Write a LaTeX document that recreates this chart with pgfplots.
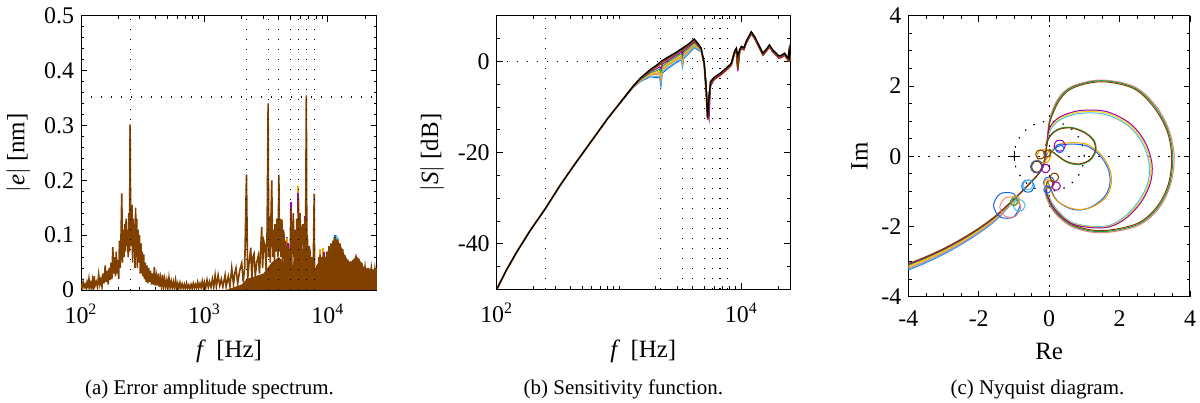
\documentclass[border=0pt]{standalone}
\usepackage{fontspec}
\setmainfont{Liberation Serif}
\usepackage{pgfplots}
\pgfplotsset{compat=1.18}
\definecolor{cBlue}{RGB}{20,100,235}
\definecolor{cLBlue}{RGB}{70,190,240}
\definecolor{cOrange}{RGB}{240,160,0}
\definecolor{cYellow}{RGB}{240,220,0}
\definecolor{cGreen}{RGB}{30,160,70}
\definecolor{cPurple}{RGB}{160,0,170}
\definecolor{cPink}{RGB}{240,130,130}
\definecolor{cBrown}{RGB}{128,64,0}
\pgfplotsset{
  myaxis/.style={scale only axis, tick pos=both, tick align=inside,
    major tick length=3bp, minor tick length=1.6bp,
    every tick/.style={black, line width=0.4bp},
    axis line style={line width=0.5bp},
    ticklabel style={font=\fontsize{12}{14}\selectfont},
    xticklabel style={yshift=-3.5bp},
    label style={font=\fontsize{12.5}{15}\selectfont},
    xlabel style={yshift=-1.5bp},
    /pgf/number format/assume math mode=true, clip=true},
  refl/.style={black, line width=0.6bp, dash pattern=on 0.7bp off 4.3bp, forget plot},
  sc/.style={line width=0.5bp, smooth, tension=0.55, forget plot},
  pk/.style={line width=0.9bp, unbounded coords=jump, forget plot},
}
\begin{document}
\begin{tikzpicture}
\useasboundingbox (0,0) rectangle (600bp,201.5bp);
% ---------------- (a) ----------------
\begin{axis}[myaxis, at={(40.5bp,56.5bp)}, anchor=south west, width=148bp, height=137.15bp,
  xmode=log, xmin=100, xmax=25000, ymin=0, ymax=0.5,
  xtick={100,1000,10000}, xticklabels={10\textsuperscript{2},10\textsuperscript{3},10\textsuperscript{4}},
  minor xtick={200,300,400,500,600,700,800,900,2000,3000,4000,5000,6000,7000,8000,9000,20000},
  ytick={0,0.1,0.2,0.3,0.4,0.5}, yticklabels={0,0.1,0.2,0.3,0.4,0.5},
  minor ytick={0.02,0.04,0.06,0.08,0.12,0.14,0.16,0.18,0.22,0.24,0.26,0.28,0.32,0.34,0.36,0.38,0.42,0.44,0.46,0.48},
  xlabel={\textit{f}\,\ [Hz]}, ylabel={$|$\textit{e}$|$\ [nm]}]
\addplot[pk, cPink] coordinates {(250,0.25)(250,0.303)(nan,nan)(2190,0.17)(2190,0.212)(nan,nan)(12000,0.07)(12000,0.094)(nan,nan)(16910,0.05)(16910,0.066)};
\addplot[pk, cLBlue] coordinates {(11200,0.07)(11200,0.097)(nan,nan)(11600,0.07)(11600,0.1)(nan,nan)(11900,0.07)(11900,0.096)};
\addplot[pk, cBlue] coordinates {(4700,0.06)(4700,0.096)(nan,nan)(5010,0.12)(5010,0.155)(nan,nan)(5770,0.15)(5770,0.183)(nan,nan)(11430,0.07)(11430,0.1)};
\addplot[pk, cOrange] coordinates {(4240,0.1)(4240,0.13)(nan,nan)(4700,0.06)(4700,0.095)(nan,nan)(5770,0.15)(5770,0.19)(nan,nan)(8650,0.05)(8650,0.075)(nan,nan)(9195,0.05)(9195,0.076)};
\addplot[pk, cPurple] coordinates {(4720,0.04)(4720,0.085)(nan,nan)(5010,0.1)(5010,0.16)(nan,nan)(5770,0.14)(5770,0.176)(nan,nan)(6500,0.1)(6500,0.135)(nan,nan)(9300,0.04)(9300,0.07)};
\addplot[draw=none, fill=cBrown, forget plot] coordinates {(1500,0)(2000,0.01)(2200,0.02)(3000,0.03)(3500,0.05)(4000,0.06)(4500,0.05)(5000,0.04)(5500,0.06)(6000,0.07)(6500,0.08)(7000,0.05)(7600,0.03)(8000,0.04)(8500,0.055)(9000,0.06)(9500,0.058)(10000,0.07)(10600,0.082)(11000,0.088)(11430,0.095)(12000,0.09)(12560,0.083)(13200,0.072)(13800,0.062)(14500,0.055)(15100,0.05)(15900,0.054)(16900,0.062)(17800,0.057)(18800,0.049)(19500,0.042)(20000,0.04)(22000,0.039)(24000,0.037)(25000,0.038)} \closedcycle;
\addplot[cBrown, line width=0.8bp] coordinates {
(100,0.012)(102,0.004)(104,0.015)(106,0.005)(108,0.01)(110,0.003)(112,0.014)(114,0.006)(116,0.02)(118,0.005)(120,0.012)(122,0.004)(124,0.018)(126,0.006)(128,0.025)(130,0.008)(133,0.015)(136,0.005)(139,0.028)(142,0.01)(145,0.02)(148,0.006)(151,0.03)(154,0.012)(157,0.045)(160,0.015)(163,0.035)(166,0.01)(169,0.04)(172,0.018)(175,0.05)(178,0.02)(181,0.078)(184,0.03)(187,0.06)(190,0.025)(193,0.07)(196,0.03)(199,0.055)(202,0.02)(205,0.09)(208,0.04)(211,0.1)(214,0.176)(217,0.05)(220,0.11)(223,0.06)(226,0.12)(229,0.07)(232,0.13)(235,0.08)(238,0.11)(241,0.06)(244,0.14)(247,0.07)(250,0.30)(253,0.08)(256,0.12)(259,0.155)(262,0.05)(265,0.13)(268,0.07)(271,0.12)(274,0.04)(277,0.15)(280,0.06)(283,0.13)(286,0.04)(290,0.11)(294,0.05)(298,0.1)(302,0.03)(306,0.085)(310,0.03)(314,0.07)(318,0.025)(322,0.065)(327,0.02)(332,0.05)(337,0.015)(342,0.045)(348,0.012)(354,0.04)(360,0.015)(366,0.035)(372,0.01)(379,0.03)(386,0.01)(393,0.042)(400,0.008)(408,0.025)(416,0.008)(424,0.03)(432,0.006)(440,0.022)(449,0.006)(458,0.028)(467,0.005)(476,0.02)(486,0.005)(496,0.018)(506,0.004)(516,0.022)(527,0.004)(538,0.016)(549,0.004)(560,0.015)(572,0.003)(584,0.018)(596,0.003)(608,0.012)(620,0.003)(633,0.013)(646,0.003)(660,0.011)(674,0.003)(688,0.01)(702,0.002)(717,0.012)(732,0.003)(747,0.009)(763,0.002)(779,0.01)(795,0.003)(812,0.012)(829,0.003)(846,0.01)(864,0.003)(882,0.014)(900,0.004)(920,0.012)(940,0.004)(960,0.016)(980,0.004)(1000,0.014)(1025,0.004)(1050,0.018)(1075,0.005)(1100,0.015)(1130,0.005)(1160,0.02)(1190,0.005)(1220,0.027)(1250,0.006)(1290,0.027)(1330,0.008)(1370,0.02)(1410,0.006)(1470,0.027)(1500,0.006)
(1560,0.025)(1610,0.006)(1664,0.04)(1720,0.01)(1760,0.03)(1803,0.04)(1860,0.012)(1930,0.035)(2006,0.049)(2060,0.015)(2120,0.04)(2190,0.21)(2240,0.02)(2300,0.05)(2373,0.077)(2420,0.02)(2470,0.06)(2523,0.066)(2580,0.025)(2650,0.05)(2735,0.063)(2790,0.03)(2850,0.07)(2912,0.115)(2960,0.04)(3020,0.09)(3097,0.08)(3160,0.035)(3220,0.11)(3280,0.34)(3320,0.06)(3360,0.134)(3410,0.05)(3450,0.12)(3510,0.2)(3570,0.06)(3640,0.11)(3690,0.05)(3733,0.12)(3800,0.07)(3870,0.13)(3940,0.06)(4010,0.21)(4050,0.07)(4100,0.13)(4170,0.06)(4240,0.128)(4300,0.05)(4360,0.11)(4417,0.1)(4480,0.04)(4560,0.09)(4620,0.03)(4700,0.08)(4780,0.03)(4850,0.075)(4930,0.04)(5010,0.15)(5070,0.03)(5150,0.09)(5253,0.14)(5330,0.05)(5420,0.11)(5500,0.05)(5600,0.13)(5680,0.06)(5770,0.17)(5850,0.06)(5953,0.14)(6050,0.06)(6150,0.11)(6260,0.12)(6380,0.05)(6500,0.13)(6590,0.06)(6690,0.355)(6760,0.06)(6820,0.1)(6950,0.03)(7050,0.08)(7173,0.07)(7300,0.02)(7450,0.06)(7600,0.03)(7750,0.175)(7810,0.02)(7870,0.04)(8000,0.01)(8150,0.045)(8300,0.015)(8450,0.06)(8550,0.015)(8650,0.065)(8800,0.02)(8950,0.06)(9050,0.02)(9195,0.065)(9350,0.02)(9500,0.06)(9650,0.02)(9800,0.07)(10000,0.02)(10200,0.08)(10420,0.02)(10600,0.085)(10800,0.02)(11000,0.09)(11200,0.02)(11430,0.097)(11700,0.02)(12000,0.092)(12300,0.02)(12560,0.085)(12900,0.015)(13200,0.075)(13500,0.015)(13770,0.063)(14100,0.015)(14500,0.055)(14800,0.015)(15130,0.052)(15500,0.015)(15900,0.055)(16300,0.015)(16910,0.062)(17300,0.015)(17800,0.057)(18300,0.015)(18820,0.05)(19300,0.012)(20000,0.042)(20600,0.012)(21200,0.04)(21800,0.012)(22500,0.04)(23200,0.01)(24000,0.038)(24600,0.01)(25000,0.04)};
\addplot[refl] coordinates {(100,0.352)(25000,0.352)};
\addplot[refl] coordinates {(250,0)(250,0.5)};
\addplot[refl] coordinates {(2190,0)(2190,0.5)};
\addplot[refl] coordinates {(3280,0)(3280,0.5)};
\addplot[refl] coordinates {(4010,0)(4010,0.5)};
\addplot[refl] coordinates {(5010,0)(5010,0.5)};
\addplot[refl] coordinates {(5770,0)(5770,0.5)};
\addplot[refl] coordinates {(6690,0)(6690,0.5)};
\addplot[refl] coordinates {(7750,0)(7750,0.5)};
\end{axis}
% ---------------- (b) ----------------
\begin{axis}[myaxis, at={(248.35bp,56.85bp)}, anchor=south west, width=146.65bp, height=136.8bp,
  xmode=log, xmin=100, xmax=25000, ymin=-50, ymax=10,
  xtick={100,10000}, xticklabels={10\textsuperscript{2},10\textsuperscript{4}},
  minor xtick={200,300,400,500,600,700,800,900,1000,2000,3000,4000,5000,6000,7000,8000,9000,20000},
  ytick={-40,-20,0}, yticklabels={-40,-20,0},
  minor ytick={-50,-45,-35,-30,-25,-15,-10,-5,5,10},
  xlabel={\textit{f}\,\ [Hz]}, ylabel={$|$\textit{S}$|$\ [dB]}]
\addplot[refl] coordinates {(100,0)(25000,0)};
\addplot[refl] coordinates {(250,-50)(250,10)};
\addplot[refl] coordinates {(2190,-50)(2190,10)};
\addplot[refl] coordinates {(3280,-50)(3280,10)};
\addplot[refl] coordinates {(4010,-50)(4010,10)};
\addplot[refl] coordinates {(5010,-50)(5010,10)};
\addplot[refl] coordinates {(5770,-50)(5770,10)};
\addplot[refl] coordinates {(6690,-50)(6690,10)};
\addplot[refl] coordinates {(7750,-50)(7750,10)};
% blue
\addplot[cBlue, line width=0.5bp] coordinates {(1000,-9.4)(1300,-5.8)(1504,-4.4)(1800,-3.4)(2060,-3.6)(2150,-3.5)(2200,-5.5)(2260,-2.6)(2500,-1.6)(2900,-0.4)(3250,0.4)(3300,-1.6)(3360,0.5)(3700,1.6)(4120,3.0)(4400,2.5)(4690,2.1)(4970,-0.7)(5150,-4.8)(5300,-10.2)(5450,-7.0)(5600,-4.2)(6000,-3.6)(6800,-2.6)(7500,-1.6)(8290,-0.5)(8800,2.1)(9100,2.8)(9350,-1.5)(9700,2.5)(10000,3.2)(10500,2.9)(11000,4.4)(12060,6.4)(12800,5.4)(13650,3.9)(15000,1.7)(15700,2.3)(16980,3.5)(18100,2.4)(19300,1.7)(20200,1.1)(21100,1.2)(22600,1.7)(24100,0.6)(24600,2.3)(25000,0.2)};
% light blue
\addplot[cLBlue, line width=0.5bp] coordinates {(1000,-9.4)(1300,-5.77)(1504,-4.32)(1800,-3.24)(2060,-3.31)(2150,-3.17)(2200,-4.95)(2260,-2.32)(2500,-1.35)(2900,-0.17)(3250,0.64)(3300,-1.15)(3360,0.75)(3700,1.82)(4120,3.19)(4400,2.65)(4690,2.18)(4970,-0.67)(5150,-4.8)(5300,-10.5)(5450,-7.2)(5600,-4.2)(6000,-3.65)(6800,-2.65)(7500,-1.65)(8290,-0.55)(8800,2.05)(9100,2.75)(9350,-1.6)(9700,2.45)(10000,3.15)(10500,2.85)(11000,4.35)(12060,6.35)(12800,5.35)(13650,3.85)(15000,1.65)(15700,2.25)(16980,3.45)(18100,2.35)(19300,1.65)(20200,1.05)(21100,1.15)(22600,1.65)(24100,0.55)(24600,2.25)(25000,0.15)};
% orange
\addplot[cOrange, line width=0.5bp] coordinates {(1000,-9.4)(1300,-5.73)(1504,-4.2)(1800,-3.0)(2060,-2.88)(2150,-2.68)(2200,-4.13)(2260,-1.9)(2500,-0.98)(2900,0.18)(3250,1.0)(3300,-0.48)(3360,1.13)(3700,2.15)(4120,3.48)(4400,2.88)(4690,2.3)(4970,-0.63)(5150,-6.0)(5300,-12.5)(5450,-8.2)(5600,-4.7)(6000,-4.1)(6800,-3.1)(7500,-2.1)(8290,-1.0)(8800,1.6)(9100,2.3)(9350,-1.9)(9700,2.0)(10000,2.7)(10500,2.4)(11000,3.9)(12060,5.9)(12800,4.9)(13650,3.4)(15000,1.2)(15700,1.8)(16980,3.0)(18100,1.9)(19300,1.2)(20200,0.6)(21100,0.7)(22600,1.2)(24100,0.1)(24600,1.8)(25000,-0.3)};
% pink
\addplot[cPink, line width=0.5bp] coordinates {(1000,-9.4)(1300,-5.7)(1504,-4.12)(1800,-2.84)(2060,-2.59)(2150,-2.35)(2200,-3.58)(2260,-1.62)(2500,-0.73)(2900,0.41)(3250,1.24)(3300,-0.03)(3360,1.38)(3700,2.37)(4120,3.67)(4400,3.03)(4690,2.38)(4970,-0.6)(5150,-5.5)(5300,-11.5)(5450,-8.0)(5600,-4.6)(6000,-3.8)(6800,-2.8)(7500,-1.8)(8290,-0.7)(8800,1.9)(9100,2.6)(9350,-1.8)(9700,2.3)(10000,3.0)(10500,2.7)(11000,4.2)(12060,6.2)(12800,5.2)(13650,3.7)(15000,1.5)(15700,2.1)(16980,3.3)(18100,2.2)(19300,1.5)(20200,0.9)(21100,1.0)(22600,1.5)(24100,0.4)(24600,2.1)(25000,0.0)};
% yellow
\addplot[cYellow, line width=0.5bp] coordinates {(1000,-9.4)(1300,-5.67)(1504,-4.04)(1800,-2.68)(2060,-2.3)(2150,-2.02)(2200,-3.03)(2260,-1.34)(2500,-0.48)(2900,0.64)(3250,1.48)(3300,0.43)(3360,1.63)(3700,2.59)(4120,3.86)(4400,3.18)(4690,2.46)(4970,-0.57)(5150,-5.0)(5300,-11.2)(5450,-7.6)(5600,-4.3)(6000,-3.9)(6800,-2.9)(7500,-1.9)(8290,-0.8)(8800,1.8)(9100,2.5)(9350,-1.8)(9700,2.2)(10000,2.9)(10500,2.6)(11000,4.1)(12060,6.1)(12800,5.1)(13650,3.6)(15000,1.4)(15700,2.0)(16980,3.2)(18100,2.1)(19300,1.4)(20200,0.8)(21100,0.9)(22600,1.4)(24100,0.3)(24600,2.0)(25000,-0.1)};
% green
\addplot[cGreen, line width=0.5bp] coordinates {(1000,-9.4)(1300,-5.64)(1504,-3.96)(1800,-2.52)(2060,-2.0)(2150,-1.69)(2200,-2.48)(2260,-1.06)(2500,-0.23)(2900,0.87)(3250,1.72)(3300,0.88)(3360,1.88)(3700,2.81)(4120,4.05)(4400,3.33)(4690,2.54)(4970,-0.54)(5150,-5.2)(5300,-11.0)(5450,-7.8)(5600,-4.4)(6000,-3.75)(6800,-2.75)(7500,-1.75)(8290,-0.65)(8800,1.95)(9100,2.65)(9350,-1.7)(9700,2.35)(10000,3.05)(10500,2.75)(11000,4.25)(12060,6.25)(12800,5.25)(13650,3.75)(15000,1.55)(15700,2.15)(16980,3.35)(18100,2.25)(19300,1.55)(20200,0.95)(21100,1.05)(22600,1.55)(24100,0.45)(24600,2.15)(25000,0.05)};
% purple
\addplot[cPurple, line width=0.5bp] coordinates {(1000,-9.4)(1300,-5.59)(1504,-3.84)(1800,-2.28)(2060,-1.57)(2150,-1.19)(2200,-1.65)(2260,-0.64)(2500,0.15)(2900,1.21)(3250,2.08)(3300,1.55)(3360,2.25)(3700,3.14)(4120,4.33)(4400,3.55)(4690,2.66)(4970,-0.49)(5150,-5.0)(5300,-11.0)(5450,-12.8)(5600,-5.5)(6000,-4.0)(6800,-3.0)(7500,-2.0)(8290,-0.9)(8800,1.7)(9100,2.4)(9350,-2.2)(9700,2.1)(10000,2.8)(10500,2.5)(11000,4.0)(12060,6.0)(12800,5.0)(13650,3.5)(15000,1.3)(15700,1.9)(16980,3.1)(18100,2.0)(19300,1.3)(20200,0.7)(21100,0.8)(22600,1.3)(24100,0.2)(24600,1.9)(25000,-0.2)};
% brown
\addplot[cBrown, line width=0.9bp] coordinates {(100,-50)(120,-45.8)(146,-41.8)(188,-37.1)(250,-32.3)(330,-27.2)(426,-22.9)(584,-17.8)(800,-12.7)(1000,-9.4)(1300,-5.54)(1504,-3.7)(1800,-1.99)(2060,-1.05)(2150,-0.6)(2200,-0.66)(2260,-0.14)(2500,0.6)(2900,1.62)(3250,2.51)(3300,2.36)(3360,2.7)(3700,3.54)(4120,4.67)(4400,3.82)(4690,2.8)(4970,-0.44)(5150,-6.5)(5300,-12.8)(5450,-8.5)(5600,-5.0)(6000,-3.7)(6800,-2.7)(7500,-1.7)(8290,-0.6)(8800,2.0)(9100,2.7)(9350,-1.6)(9700,2.4)(10000,3.1)(10500,2.8)(11000,4.3)(12060,6.3)(12800,5.3)(13650,3.8)(15000,1.6)(15700,2.2)(16980,3.4)(18100,2.3)(19300,1.6)(20200,1.0)(21100,1.1)(22600,1.6)(24100,0.5)(24600,2.2)(25000,0.1)};
% black
\addplot[black, line width=0.6bp] coordinates {(100,-50)(120,-45.8)(146,-41.8)(188,-37.1)(250,-32.3)(330,-27.2)(426,-22.9)(584,-17.8)(800,-12.7)(1000,-9.4)(1300,-5.5)(1504,-3.6)(1800,-1.8)(2060,-0.7)(2200,0)(2500,0.9)(2900,1.9)(3300,2.9)(3700,3.8)(4120,4.9)(4400,4.0)(4690,2.9)(4970,-0.4)(5150,-5.5)(5300,-12.3)(5450,-7.5)(5600,-4.5)(6000,-3.5)(6800,-2.5)(7500,-1.5)(8290,-0.4)(8800,2.2)(9100,2.9)(9350,1.2)(9700,2.6)(10000,3.3)(10500,3.0)(11000,4.5)(12060,6.5)(12800,5.5)(13650,4.0)(15000,1.8)(15700,2.4)(16980,3.6)(18100,2.5)(19300,1.8)(20200,1.2)(21100,1.3)(22600,1.8)(24100,0.7)(24600,2.4)(25000,0.3)};
\end{axis}
% ---------------- (c) ----------------
\begin{axis}[myaxis, at={(454.15bp,53.15bp)}, anchor=south west, width=140.85bp, height=140.5bp,
  xmin=-4, xmax=4, ymin=-4, ymax=4,
  xtick={-4,-2,0,2,4}, xticklabels={-4,-2,0,2,4},
  ytick={-4,-2,0,2,4}, yticklabels={-4,-2,0,2,4},
  minor tick num=3, xlabel={Re}, ylabel={Im}]
\addplot[refl] coordinates {(-4,0)(4,0)};
\addplot[refl] coordinates {(0,-4)(0,4)};
\addplot[refl, smooth] coordinates {(1,0)(0.924,0.383)(0.707,0.707)(0.383,0.924)(0,1)(-0.383,0.924)(-0.707,0.707)(-0.924,0.383)(-1,0)(-0.924,-0.383)(-0.707,-0.707)(-0.383,-0.924)(0,-1)(0.383,-0.924)(0.707,-0.707)(0.924,-0.383)(1,0)};
\addplot[black, only marks, mark=+, mark size=2.5bp, forget plot] coordinates {(-1,0)};
% tails
\addplot[sc, cBlue] coordinates {(-4,-3.24)(-3.5,-3.031)(-3,-2.792)(-2.5,-2.513)(-2,-2.194)(-1.6,-1.895)(-1.3,-1.608)(-1.0,-1.256)(-0.7,-0.93)(-0.5,-0.72)(-0.3,-0.5)(-0.15,-0.2)(-0.05,0.1)};
\addplot[sc, cLBlue] coordinates {(-4,-3.22)(-3.5,-3.012)(-3,-2.774)(-2.5,-2.496)(-2,-2.178)(-1.6,-1.88)(-1.3,-1.596)(-1.0,-1.252)(-0.7,-0.93)(-0.5,-0.72)(-0.3,-0.5)(-0.15,-0.2)(-0.05,0.5)};
\addplot[sc, cPink] coordinates {(-4,-3.19)(-3.5,-2.984)(-3,-2.747)(-2.5,-2.471)(-2,-2.154)(-1.6,-1.858)(-1.3,-1.578)(-1.0,-1.246)(-0.7,-0.93)(-0.5,-0.72)(-0.3,-0.5)(-0.15,-0.2)(-0.05,0.45)};
\addplot[sc, cOrange] coordinates {(-4,-3.15)(-3.5,-2.946)(-3,-2.711)(-2.5,-2.437)(-2,-2.122)(-1.6,-1.828)(-1.3,-1.554)(-1.0,-1.238)(-0.7,-0.93)(-0.5,-0.72)(-0.3,-0.5)(-0.15,-0.2)(0.05,0.1)};
\addplot[sc, cYellow] coordinates {(-4,-3.13)(-3.5,-2.927)(-3,-2.693)(-2.5,-2.42)(-2,-2.106)(-1.6,-1.813)(-1.3,-1.542)(-1.0,-1.234)(-0.7,-0.93)(-0.5,-0.72)(-0.3,-0.5)(-0.15,-0.2)(-0.05,0.5)};
\addplot[sc, cGreen] coordinates {(-4,-3.10)(-3.5,-2.898)(-3,-2.666)(-2.5,-2.394)(-2,-2.082)(-1.6,-1.79)(-1.3,-1.524)(-1.0,-1.228)(-0.7,-0.93)(-0.5,-0.72)(-0.3,-0.5)(-0.15,-0.2)(-0.05,0.45)};
\addplot[sc, cPurple] coordinates {(-4,-3.08)(-3.5,-2.879)(-3,-2.648)(-2.5,-2.377)(-2,-2.066)(-1.6,-1.775)(-1.3,-1.512)(-1.0,-1.224)(-0.7,-0.93)(-0.5,-0.72)(-0.3,-0.5)(-0.15,-0.2)(-0.05,0.5)};
\addplot[sc, cBrown] coordinates {(-4,-3.06)(-3.5,-2.86)(-3,-2.63)(-2.5,-2.36)(-2,-2.05)(-1.6,-1.76)(-1.3,-1.5)(-1.0,-1.22)(-0.7,-0.93)(-0.5,-0.72)(-0.3,-0.5)(-0.15,-0.2)(-0.05,0.45)};
% tail circles
\addplot[sc, cBlue] coordinates {(-0.82,-1.4)(-1.01,-1.07)(-1.39,-1.07)(-1.58,-1.4)(-1.39,-1.73)(-1.01,-1.73)(-0.82,-1.4)};
\addplot[sc, cPink] coordinates {(-0.8,-1.45)(-0.95,-1.19)(-1.25,-1.19)(-1.4,-1.45)(-1.25,-1.71)(-0.95,-1.71)(-0.8,-1.45)};
\addplot[sc, cLBlue] coordinates {(-0.68,-1.4)(-0.765,-1.253)(-0.935,-1.253)(-1.02,-1.4)(-0.935,-1.547)(-0.765,-1.547)(-0.68,-1.4)};
\addplot[sc, cBlue] coordinates {(-0.42,-0.85)(-0.51,-0.694)(-0.69,-0.694)(-0.78,-0.85)(-0.69,-1.006)(-0.51,-1.006)(-0.42,-0.85)};
\addplot[sc, cLBlue] coordinates {(-0.46,-0.82)(-0.53,-0.7)(-0.67,-0.7)(-0.74,-0.82)(-0.67,-0.94)(-0.53,-0.94)(-0.46,-0.82)};
\addplot[sc, cOrange] coordinates {(-0.83,-1.25)(-0.89,-1.146)(-1.01,-1.146)(-1.07,-1.25)(-1.01,-1.354)(-0.89,-1.354)(-0.83,-1.25)};
\addplot[sc, cGreen] coordinates {(-0.9,-1.3)(-0.95,-1.21)(-1.05,-1.21)(-1.1,-1.3)(-1.05,-1.39)(-0.95,-1.39)(-0.9,-1.3)};
% big loops
\addplot[sc, cPink] coordinates {(-0.05,0.45)(0.01,1.04)(0.26,1.65)(0.67,2.0)(1.49,2.17)(2.42,1.98)(3.02,1.45)(3.40,0.76)(3.55,0.0)(3.45,-0.8)(3.12,-1.48)(2.52,-1.98)(1.49,-2.18)(0.67,-2.02)(0.13,-1.58)(-0.11,-1.08)(-0.05,-0.85)};
\addplot[sc, cGreen] coordinates {(-0.05,0.45)(0.02,1.02)(0.28,1.63)(0.68,1.98)(1.49,2.15)(2.4,1.96)(2.99,1.43)(3.37,0.75)(3.51,0.0)(3.42,-0.79)(3.09,-1.46)(2.5,-1.95)(1.49,-2.15)(0.68,-1.99)(0.15,-1.56)(-0.09,-1.07)(-0.05,-0.85)};
\addplot[sc, cBrown] coordinates {(-0.05,0.45)(0.03,1.0)(0.3,1.6)(0.69,1.95)(1.49,2.12)(2.39,1.93)(2.96,1.41)(3.34,0.74)(3.48,0.0)(3.39,-0.78)(3.06,-1.44)(2.49,-1.92)(1.49,-2.12)(0.69,-1.96)(0.17,-1.54)(-0.07,-1.06)(-0.05,-0.85)};
% medium loops
\addplot[sc, cLBlue] coordinates {(-0.05,0.5)(0.07,0.8)(0.35,1.06)(0.88,1.22)(1.6,1.19)(2.24,0.87)(2.64,0.39)(2.84,-0.21)(2.8,-0.77)(2.52,-1.31)(2.07,-1.78)(1.55,-2.0)(0.69,-1.9)(0.19,-1.48)(-0.05,-1.04)(-0.05,-0.85)};
\addplot[sc, cYellow] coordinates {(-0.05,0.5)(0.05,0.82)(0.33,1.09)(0.88,1.26)(1.62,1.23)(2.27,0.9)(2.68,0.4)(2.88,-0.21)(2.83,-0.78)(2.55,-1.33)(2.09,-1.8)(1.55,-2.02)(0.69,-1.92)(0.18,-1.5)(-0.06,-1.05)(-0.05,-0.85)};
\addplot[sc, cPurple] coordinates {(-0.05,0.5)(0.03,0.84)(0.31,1.12)(0.88,1.3)(1.63,1.27)(2.3,0.93)(2.72,0.41)(2.92,-0.21)(2.87,-0.78)(2.58,-1.35)(2.11,-1.82)(1.55,-2.04)(0.69,-1.94)(0.17,-1.52)(-0.07,-1.05)(-0.05,-0.85)};
% small loops
\addplot[sc, cBlue] coordinates {(0.05,0.1)(0.22,0.26)(0.5,0.34)(1.05,0.3)(1.45,0.01)(1.69,-0.4)(1.72,-0.82)(1.55,-1.18)(1.14,-1.47)(0.69,-1.52)(0.23,-1.27)(0.0,-0.82)(-0.05,-0.7)};
\addplot[sc, cOrange] coordinates {(0.05,0.1)(0.2,0.3)(0.5,0.38)(1.07,0.34)(1.49,0.03)(1.73,-0.4)(1.76,-0.82)(1.59,-1.2)(1.16,-1.47)(0.69,-1.5)(0.21,-1.26)(-0.02,-0.82)(-0.05,-0.7)};
\addplot[sc, cGreen] coordinates {(-0.1,0.32)(0.05,0.62)(0.3,0.79)(0.64,0.82)(1.0,0.69)(1.27,0.46)(1.33,0.17)(1.17,-0.11)(0.85,-0.24)(0.5,-0.17)(0.2,0.04)(0.0,0.2)};
\addplot[sc, cBrown] coordinates {(-0.1,0.3)(0.05,0.6)(0.3,0.77)(0.64,0.8)(1.0,0.67)(1.25,0.45)(1.31,0.17)(1.15,-0.1)(0.85,-0.22)(0.5,-0.15)(0.2,0.05)(0.0,0.2)};
% cluster circles
\addplot[sc, cOrange] coordinates {(0.05,0.0)(-0.05,0.17)(-0.25,0.17)(-0.35,0.0)(-0.25,-0.17)(-0.05,-0.17)(0.05,0.0)};
\addplot[sc, cBlue] coordinates {(-0.17,-0.3)(-0.26,-0.143)(-0.44,-0.143)(-0.53,-0.3)(-0.44,-0.457)(-0.26,-0.457)(-0.17,-0.3)};
\addplot[sc, cBrown] coordinates {(-0.2,-0.3)(-0.28,-0.16)(-0.42,-0.16)(-0.5,-0.3)(-0.42,-0.44)(-0.28,-0.44)(-0.2,-0.3)};
\addplot[sc, cBrown] coordinates {(-0.12,0.05)(-0.185,0.163)(-0.315,0.163)(-0.38,0.05)(-0.315,-0.063)(-0.185,-0.063)(-0.12,0.05)};
\addplot[sc, cBrown] coordinates {(0.05,0.08)(0.0,0.167)(-0.1,0.167)(-0.15,0.08)(-0.1,-0.007)(0.0,-0.007)(0.05,0.08)};
\addplot[sc, cPurple] coordinates {(0.46,0.3)(0.38,0.44)(0.22,0.44)(0.14,0.3)(0.22,0.16)(0.38,0.16)(0.46,0.3)};
\addplot[sc, cBlue] coordinates {(0.42,0.22)(0.36,0.32)(0.24,0.32)(0.18,0.22)(0.24,0.12)(0.36,0.12)(0.42,0.22)};
\addplot[sc, cPurple] coordinates {(0.02,-0.35)(-0.04,-0.246)(-0.16,-0.246)(-0.22,-0.35)(-0.16,-0.454)(-0.04,-0.454)(0.02,-0.35)};
\addplot[sc, cBlue] coordinates {(0.16,-0.75)(0.08,-0.61)(-0.08,-0.61)(-0.16,-0.75)(-0.08,-0.89)(0.08,-0.89)(0.16,-0.75)};
\addplot[sc, cOrange] coordinates {(0.14,-0.78)(0.07,-0.66)(-0.07,-0.66)(-0.14,-0.78)(-0.07,-0.9)(0.07,-0.9)(0.14,-0.78)};
\addplot[sc, cBrown] coordinates {(0.27,-0.6)(0.21,-0.496)(0.09,-0.496)(0.03,-0.6)(0.09,-0.704)(0.21,-0.704)(0.27,-0.6)};
\addplot[sc, cBrown] coordinates {(0.12,-0.8)(0.07,-0.71)(-0.03,-0.71)(-0.08,-0.8)(-0.03,-0.89)(0.07,-0.89)(0.12,-0.8)};
\addplot[sc, cPurple] coordinates {(0.32,-0.85)(0.26,-0.746)(0.14,-0.746)(0.08,-0.85)(0.14,-0.954)(0.26,-0.954)(0.32,-0.85)};
\addplot[sc, cBlue] coordinates {(0.05,-0.95)(0.0,-0.863)(-0.1,-0.863)(-0.15,-0.95)(-0.1,-1.037)(0.0,-1.037)(0.05,-0.95)};
\end{axis}
\node[anchor=base, font=\fontsize{10.5}{12}\selectfont] at (104.75bp,4.5bp) {(a)\ Error amplitude spectrum.};
\node[anchor=base, font=\fontsize{10.5}{12}\selectfont] at (311.7bp,4.5bp) {(b)\ Sensitivity function.};
\node[anchor=base, font=\fontsize{10.5}{12}\selectfont] at (518.7bp,4.5bp) {(c)\ Nyquist diagram.};
\end{tikzpicture}
\end{document}
